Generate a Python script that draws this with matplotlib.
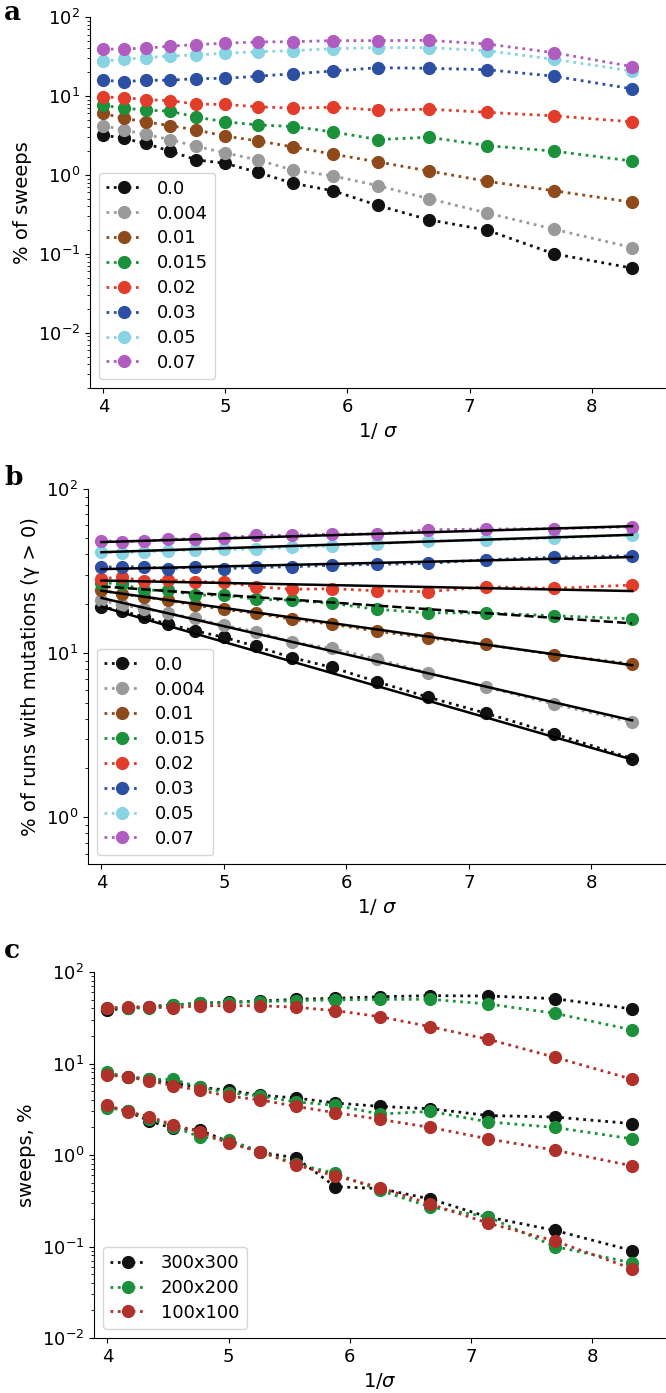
import numpy as np
import matplotlib
matplotlib.use('Agg')
import matplotlib.pyplot as plt

# 1. Data
sigma = [0.25, 0.24, 0.23, 0.22, 0.21, 0.20, 0.19, 0.18, 0.17, 0.16, 0.15, 0.14, 0.13, 0.12]
inv_sigma = 1 / np.array(sigma)

rates = ['0.0', '0.004', '0.01', '0.015', '0.02', '0.03', '0.05', '0.07']
rate_colors = ['#111111', '#9a9a9a', '#8e4a1a', '#1a913a', '#e23c2a', '#2d4fa3', '#88d4e2', '#b05cc0']

# panel a: % of sweeps
sweeps_00 = [3.2, 2.9, 2.5, 2.0, 1.55, 1.4, 1.08, 0.78, 0.63, 0.41, 0.27, 0.20, 0.10, 0.066]
sweeps_004 = [4.2, 3.7, 3.25, 2.8, 2.3, 1.9, 1.55, 1.15, 0.97, 0.73, 0.50, 0.33, 0.205, 0.12]
sweeps_01 = [6.0, 5.2, 4.7, 4.2, 3.7, 3.1, 2.7, 2.26, 1.83, 1.46, 1.12, 0.83, 0.63, 0.45]
sweeps_015 = [7.6, 7.0, 6.65, 6.4, 5.4, 4.7, 4.3, 4.1, 3.5, 2.8, 3.0, 2.35, 2.0, 1.5]
sweeps_02 = [9.7, 9.5, 9.0, 8.7, 7.9, 7.8, 7.3, 7.0, 7.2, 6.6, 6.8, 6.2, 5.6, 4.7]
sweeps_03 = [15.8, 15.2, 15.8, 15.8, 16.6, 16.7, 17.8, 19.1, 20.7, 22.8, 22.4, 21.5, 17.8, 12.3]
sweeps_05 = [27.7, 29.1, 30.5, 32.1, 33.0, 34.7, 36.4, 37.4, 39.7, 40.9, 40.9, 37.4, 29.1, 20.7]
sweeps_07 = [39.0, 39.4, 40.3, 42.7, 44.7, 46.6, 48.3, 48.7, 50.2, 50.2, 50.6, 45.5, 35.3, 23.5]

# panel b: % of runs with mutations (gamma > 0)
runs_00 = [19.2, 18.1, 16.6, 15.0, 13.7, 12.5, 11.0, 9.4, 8.2, 6.7, 5.4, 4.3, 3.24, 2.28]
runs_004 = [21.0, 19.6, 18.7, 17.5, 16.3, 14.8, 13.5, 11.7, 10.7, 9.2, 7.6, 6.2, 4.9, 3.8]
runs_01 = [24.2, 22.9, 22.0, 21.0, 19.6, 18.5, 17.5, 16.1, 15.0, 13.6, 12.4, 11.3, 9.8, 8.6]
runs_015 = [26.9, 26.4, 24.2, 24.2, 22.6, 22.6, 21.3, 21.0, 20.1, 18.5, 17.6, 17.6, 16.9, 16.2]
runs_02 = [28.5, 29.0, 27.6, 27.9, 27.3, 27.0, 25.4, 24.5, 24.7, 24.0, 23.7, 25.4, 24.8, 26.0]
runs_03 = [33.5, 33.5, 33.6, 32.7, 33.5, 32.7, 33.3, 33.6, 34.3, 34.8, 35.2, 37.1, 38.4, 39.2]
runs_05 = [41.3, 40.9, 41.5, 42.1, 42.5, 42.9, 42.9, 44.1, 44.9, 46.3, 48.2, 48.9, 50.2, 52.5]
runs_07 = [48.4, 47.8, 48.2, 49.4, 49.8, 50.2, 52.2, 52.2, 53.2, 53.2, 56.5, 57.0, 57.3, 58.9]

# exponential fits in panel b: value at 1/sigma = 4 and at 1/sigma = 8.33
fit_start = [19.2, 21.7, 24.0, 25.5, 27.7, 32.5, 41.2, 47.5]
fit_end = [2.25, 3.9, 8.45, 15.2, 23.9, 38.5, 52.6, 59.4]
fit_dashed = [False, False, False, True, False, False, False, False]

# panel c: sweeps, % for three lattice sizes (three groups each)
sizes = ['300x300', '200x200', '100x100']
size_colors = ['#111111', '#1a913a', '#b0302a']
c_top_300 = [38.4, 40.1, 41.8, 43.9, 45.5, 46.7, 48.2, 50.3, 51.6, 53.7, 55.1, 54.7, 51.1, 39.4]
c_top_200 = [40.1, 40.7, 40.1, 43.5, 45.5, 46.3, 47.5, 48.7, 49.5, 50.3, 50.3, 44.7, 35.4, 23.2]
c_top_100 = [40.1, 41.8, 41.2, 40.7, 42.8, 42.8, 42.8, 41.2, 37.8, 32.5, 25.2, 18.4, 11.7, 6.7]
c_mid_300 = [7.6, 7.2, 6.7, 6.1, 5.5, 5.1, 4.5, 4.2, 3.7, 3.4, 3.2, 2.7, 2.6, 2.2]
c_mid_200 = [8.0, 7.1, 6.7, 6.7, 5.5, 4.8, 4.4, 3.8, 3.5, 2.8, 3.0, 2.3, 2.0, 1.5]
c_mid_100 = [7.5, 7.1, 6.5, 5.7, 5.1, 4.4, 4.0, 3.4, 2.9, 2.45, 2.0, 1.5, 1.13, 0.76]
c_low_300 = [3.4, 3.0, 2.35, 1.95, 1.87, 1.40, 1.07, 0.93, 0.45, 0.43, 0.33, 0.21, 0.15, 0.09]
c_low_200 = [3.3, 3.05, 2.5, 2.04, 1.58, 1.46, 1.09, 0.80, 0.63, 0.41, 0.27, 0.21, 0.10, 0.066]
c_low_100 = [3.5, 2.97, 2.62, 2.13, 1.80, 1.34, 1.09, 0.78, 0.59, 0.44, 0.29, 0.18, 0.115, 0.057]

sweeps = [sweeps_00, sweeps_004, sweeps_01, sweeps_015, sweeps_02, sweeps_03, sweeps_05, sweeps_07]
runs = [runs_00, runs_004, runs_01, runs_015, runs_02, runs_03, runs_05, runs_07]
c_groups = [[c_top_300, c_top_200, c_top_100],
            [c_mid_300, c_mid_200, c_mid_100],
            [c_low_300, c_low_200, c_low_100]]

# 2. Figure setup
W, H = 666, 1393
plt.rcParams['font.family'] = ['DejaVu Sans']
fig = plt.figure(figsize=(W / 100, H / 100), dpi=100)


def px_axes(left, top, right, bottom):
    # axes from pixel box
    return fig.add_axes([left / W, 1 - bottom / H, (right - left) / W, (bottom - top) / H])


def style_axes(ax, ylim, xlabel, ylabel):
    ax.set_yscale('log')
    ax.set_xlim(3.89, 8.61)
    ax.set_ylim(*ylim)
    ax.spines['top'].set_visible(False)
    ax.spines['right'].set_visible(False)
    ax.set_xticks([4, 5, 6, 7, 8])
    ax.tick_params(labelsize=13)
    ax.set_xlabel(xlabel, fontsize=14)
    ax.set_ylabel(ylabel, fontsize=14)


line_kw = dict(linestyle=':', marker='o', markersize=8.5, linewidth=2)
legend_kw = dict(loc='lower left', fontsize=13, labelspacing=0.38, borderaxespad=0.5)

# 3. Panel a
ax_a = px_axes(90, 17, 666, 388)
for vals, lab, col in zip(sweeps, rates, rate_colors):
    ax_a.plot(inv_sigma, vals, color=col, label=lab, **line_kw)
style_axes(ax_a, (2e-3, 100), '1/ $\\sigma$', '% of sweeps')
ax_a.legend(**legend_kw)

# 4. Panel b
ax_b = px_axes(88, 489, 666, 864)
for vals, lab, col in zip(runs, rates, rate_colors):
    ax_b.plot(inv_sigma, vals, color=col, label=lab, **line_kw)
for v0, v1, dashed in zip(fit_start, fit_end, fit_dashed):
    ax_b.plot([inv_sigma[0], inv_sigma[-1]], [v0, v1], color='black',
              linestyle='--' if dashed else '-', linewidth=1.8)
style_axes(ax_b, (0.52, 100), '1/ $\\sigma$', '% of runs with mutations (\u03b3 > 0)')
handles, labels = ax_b.get_legend_handles_labels()
ax_b.legend(handles[:8], labels[:8], **legend_kw)

# 5. Panel c
ax_c = px_axes(94, 972, 666, 1338)
for group in c_groups:
    for vals, lab, col in zip(group, sizes, size_colors):
        ax_c.plot(inv_sigma, vals, color=col, label=lab, **line_kw)
style_axes(ax_c, (1e-2, 100), '1/$\\sigma$', 'sweeps, %')
handles, labels = ax_c.get_legend_handles_labels()
ax_c.legend(handles[:3], labels[:3], **legend_kw)

# 6. Panel letters
for letter, ypx in zip(['a', 'b', 'c'], [12, 477, 950]):
    fig.text(4 / W, 1 - ypx / H, letter, fontsize=19, fontweight='bold',
             family='DejaVu Serif', va='center', ha='left')

fig.savefig('out.png', dpi=100)
